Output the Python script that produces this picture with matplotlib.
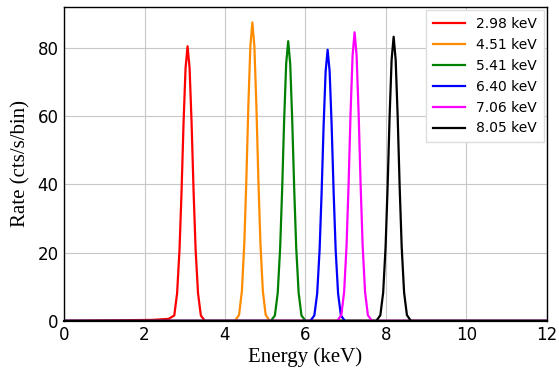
import matplotlib
matplotlib.use("Agg")
import matplotlib.pyplot as plt

# peak profiles (energy in keV, rate in cts/s/bin)
red_e = [0.0, 2.20, 2.60, 2.74, 2.81, 2.87, 2.92, 2.97, 3.02, 3.07, 3.12, 3.17, 3.22, 3.27, 3.33, 3.40, 3.50, 12.0]
red_r = [0.0, 0.3, 0.6, 1.6, 8.1, 20.9, 37.8, 58.0, 74.1, 80.5, 74.1, 58.0, 37.8, 20.9, 8.1, 1.6, 0.0, 0.0]

orange_e = [0.0, 4.25, 4.35, 4.42, 4.48, 4.53, 4.58, 4.63, 4.68, 4.73, 4.78, 4.83, 4.88, 4.94, 5.01, 5.11, 12.0]
orange_r = [0.0, 0.0, 1.8, 8.8, 22.8, 41.1, 63.0, 80.5, 87.5, 80.5, 63.0, 41.1, 22.8, 8.8, 1.8, 0.0, 0.0]

green_e = [0.0, 5.14, 5.24, 5.31, 5.37, 5.42, 5.47, 5.52, 5.57, 5.62, 5.67, 5.72, 5.77, 5.83, 5.90, 6.00, 12.0]
green_r = [0.0, 0.0, 1.6, 8.2, 21.3, 38.5, 59.0, 75.4, 82.0, 75.4, 59.0, 38.5, 21.3, 8.2, 1.6, 0.0, 0.0]

blue_e = [0.0, 6.12, 6.22, 6.29, 6.35, 6.40, 6.45, 6.50, 6.55, 6.60, 6.65, 6.70, 6.75, 6.81, 6.88, 6.98, 12.0]
blue_r = [0.0, 0.0, 1.6, 8.0, 20.7, 37.4, 57.2, 73.1, 79.5, 73.1, 57.2, 37.4, 20.7, 8.0, 1.6, 0.0, 0.0]

magenta_e = [0.0, 6.79, 6.89, 6.96, 7.02, 7.07, 7.12, 7.17, 7.22, 7.27, 7.32, 7.37, 7.42, 7.48, 7.55, 7.65, 12.0]
magenta_r = [0.0, 0.0, 1.7, 8.5, 22.0, 39.8, 60.9, 77.8, 84.6, 77.8, 60.9, 39.8, 22.0, 8.5, 1.7, 0.0, 0.0]

black_e = [0.0, 7.76, 7.86, 7.93, 7.99, 8.04, 8.09, 8.14, 8.19, 8.24, 8.29, 8.34, 8.39, 8.45, 8.52, 8.62, 12.0]
black_r = [0.0, 0.0, 1.7, 8.3, 21.7, 39.2, 60.0, 76.6, 83.3, 76.6, 60.0, 39.2, 21.7, 8.3, 1.7, 0.0, 0.0]

labels = ["2.98 keV", "4.51 keV", "5.41 keV", "6.40 keV", "7.06 keV", "8.05 keV"]
colors = ["#ff0000", "#ff8c00", "#008000", "#0000ff", "#ff00ff", "#000000"]

series = [
	(red_e, red_r),
	(orange_e, orange_r),
	(green_e, green_r),
	(blue_e, blue_r),
	(magenta_e, magenta_r),
	(black_e, black_r),
]

fig = plt.figure(figsize=(5.59, 3.71), dpi=100)
ax = fig.add_axes([0.1145, 0.135, 0.864, 0.846])

for (e, r), c, lab in zip(series, colors, labels):
	ax.plot(e, r, color=c, lw=1.6, label=lab)

ax.set_xlim(0, 12)
ax.set_ylim(0, 92)
ax.set_xticks(range(0, 13, 2))
ax.set_yticks(range(0, 81, 20))
ax.grid(True, color="#c8c8c8", lw=0.8)
ax.tick_params(length=0, labelsize=12, pad=4)
for s in ax.spines.values():
	s.set_linewidth(1.0)
ax.spines["bottom"].set_linewidth(1.6)

ax.set_xlabel("Energy (keV)", family="Liberation Serif", fontsize=15, labelpad=2)
ax.set_ylabel("Rate (cts/s/bin)", family="Liberation Serif", fontsize=15, labelpad=5)

ax.legend(loc="upper right", fontsize=10, fancybox=False, framealpha=1,
	edgecolor="#dddddd", handlelength=2.3, borderaxespad=0.2, labelspacing=0.5,
	borderpad=0.5)

fig.savefig("out.png", dpi=100)
plt.close(fig)
